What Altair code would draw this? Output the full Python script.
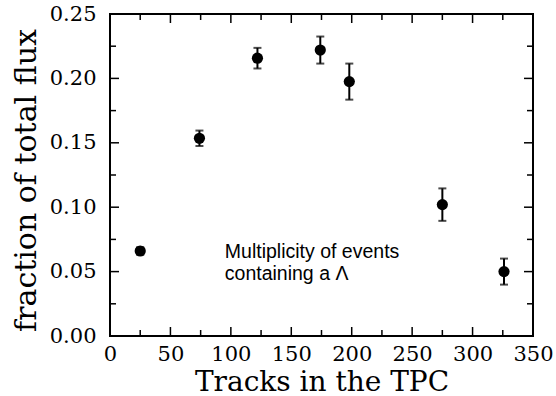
import altair as alt
import pandas as pd

# data
tracks = [25, 74, 122, 174, 198, 275, 326]
fraction = [0.066, 0.1535, 0.2157, 0.222, 0.1975, 0.102, 0.050]
error = [0.003, 0.006, 0.008, 0.0105, 0.014, 0.0126, 0.0101]

x_major = [0, 50, 100, 150, 200, 250, 300, 350]
x_minor = [25, 75, 125, 175, 225, 275, 325]
y_major = [0.0, 0.05, 0.10, 0.15, 0.20, 0.25]
y_minor = [0.025, 0.075, 0.125, 0.175, 0.225]

note_lines = ["Multiplicity of events", "containing a \u039b"]

W, H = 423, 322

df = pd.DataFrame({"x": tracks, "y": fraction, "e": error})
df["lo"] = df["y"] - df["e"]
df["hi"] = df["y"] + df["e"]

xs = alt.Scale(domain=[0, 350], nice=False, zero=False)
ys = alt.Scale(domain=[0, 0.25], nice=False, zero=False)

AXIS_FONT = "DejaVu Serif"

x_axis = alt.Axis(
    values=x_major, format="d", ticks=False, tickSize=0, domain=False, grid=False,
    labelFont=AXIS_FONT, labelFontSize=21, labelColor="black", labelPadding=7,
    labelFlush=False, labelOverlap=False,
    title="Tracks in the TPC", titleFont=AXIS_FONT, titleFontSize=28,
    titleFontWeight="normal", titleColor="black", titleBaseline="alphabetic",
    titleY=54,
)
y_axis = alt.Axis(
    values=y_major, format=".2f", ticks=False, tickSize=0, domain=False, grid=False,
    labelFont=AXIS_FONT, labelFontSize=21, labelColor="black", labelPadding=14,
    labelFlush=False, labelOverlap=False,
    title="fraction of total flux", titleFont=AXIS_FONT, titleFontSize=30,
    titleFontWeight="normal", titleColor="black", titleBaseline="alphabetic",
    titleX=-75, titleY=166, titleAngle=-90,
)

base = alt.Chart(df)

points = base.mark_point(filled=True, color="black", size=125, opacity=1).encode(
    x=alt.X("x:Q", scale=xs, axis=x_axis),
    y=alt.Y("y:Q", scale=ys, axis=y_axis),
)
bars = base.mark_rule(color="black", strokeWidth=2).encode(
    x=alt.X("x:Q", scale=xs), y=alt.Y("lo:Q", scale=ys), y2="hi:Q"
)
caps_lo = base.mark_tick(color="black", thickness=2, size=8, orient="horizontal").encode(
    x=alt.X("x:Q", scale=xs), y=alt.Y("lo:Q", scale=ys)
)
caps_hi = base.mark_tick(color="black", thickness=2, size=8, orient="horizontal").encode(
    x=alt.X("x:Q", scale=xs), y=alt.Y("hi:Q", scale=ys)
)


def xticks(vals, length):
    d = alt.Chart(pd.DataFrame({"t": vals}))
    bottom = d.mark_rule(color="black", strokeWidth=1.5).encode(
        x=alt.X("t:Q", scale=xs), y=alt.value(H), y2=alt.value(H - length)
    )
    top = d.mark_rule(color="black", strokeWidth=1.5).encode(
        x=alt.X("t:Q", scale=xs), y=alt.value(0), y2=alt.value(length)
    )
    return [bottom, top]


def yticks(vals, length):
    d = alt.Chart(pd.DataFrame({"t": vals}))
    left = d.mark_rule(color="black", strokeWidth=1.5).encode(
        y=alt.Y("t:Q", scale=ys), x=alt.value(0), x2=alt.value(length)
    )
    right = d.mark_rule(color="black", strokeWidth=1.5).encode(
        y=alt.Y("t:Q", scale=ys), x=alt.value(W), x2=alt.value(W - length)
    )
    return [left, right]


note = alt.Chart(pd.DataFrame({"a": [0]})).mark_text(
    align="left", baseline="alphabetic", font="Liberation Sans", fontSize=19.5,
    color="black", lineHeight=22,
).encode(
    x=alt.datum(95, scale=xs), y=alt.datum(0.0606, scale=ys), text=alt.value(note_lines)
)

layers = (
    xticks(x_major, 9) + xticks(x_minor, 6) + yticks(y_major, 9) + yticks(y_minor, 6)
    + [bars, caps_lo, caps_hi, points, note]
)

chart = alt.layer(*layers).properties(
    width=W, height=H,
    autosize=alt.AutoSizeParams(type="none"),
    padding={"left": 110, "top": 14, "right": 23, "bottom": 60},
    background="white",
).configure_view(stroke="black", strokeWidth=2)

chart.save("out.html", embed_options={"renderer": "svg", "actions": False})
